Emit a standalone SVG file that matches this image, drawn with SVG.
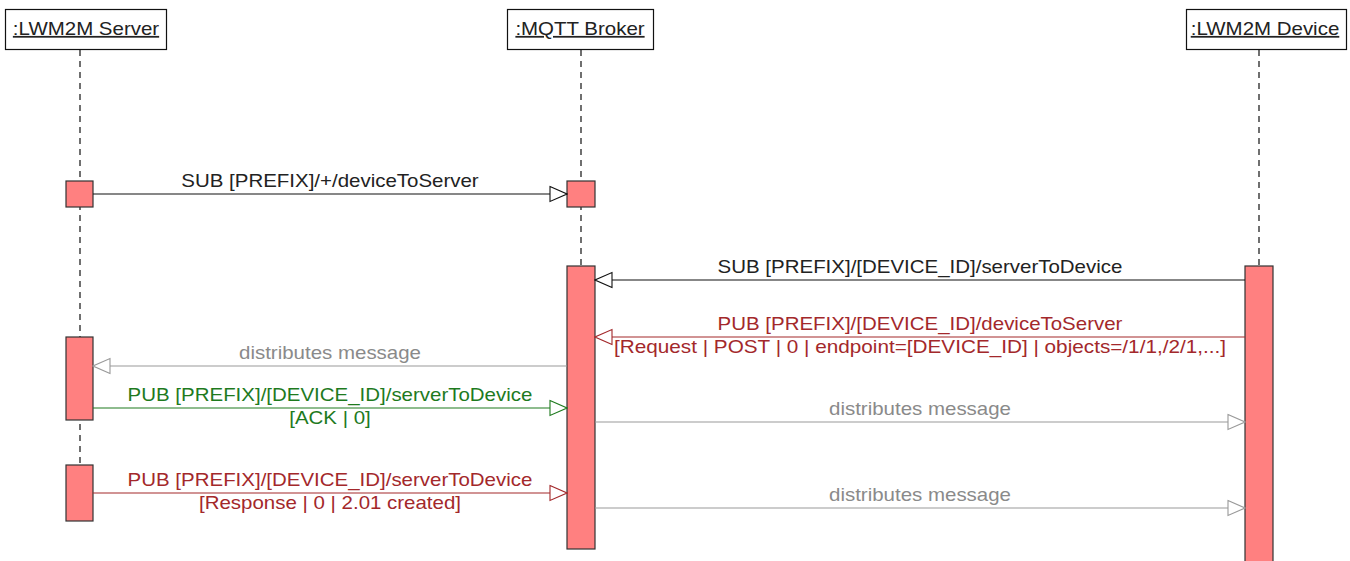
<svg xmlns="http://www.w3.org/2000/svg" width="1350" height="561" viewBox="0 0 1350 561">
  <style>
    text { font-family: "Liberation Sans", Arial, sans-serif; font-size: 17.5px; text-anchor: middle; }
    .head rect { fill: #fff; stroke: #111; stroke-width: 1.2; }
    .head text { fill: #222; text-decoration: underline; }
    .life { stroke: #111; stroke-width: 1.2; stroke-dasharray: 6 5; fill: none; }
    .act { fill: #FF8080; stroke: #333; stroke-width: 1.2; }
    .blk line { stroke: #111; stroke-width: 1.2; }
    .blk text { fill: #222; }
    .red line { stroke: #A3282B; stroke-width: 1.2; }
    .red text { fill: #A3282B; }
    .grn line { stroke: #1E7A1E; stroke-width: 1.2; }
    .grn text { fill: #1E7A1E; }
    .gry line { stroke: #999; stroke-width: 1.2; }
    .gry text { fill: #8A8A8A; }
  </style>
  <defs>
    <marker id="openBlk" viewBox="0 0 19 18" refX="18" refY="9" markerWidth="19" markerHeight="18" markerUnits="userSpaceOnUse" orient="auto">
      <path d="M1 1.5 L18 9 L1 16.5 Z" fill="#fff" stroke="#111" stroke-width="1.1"/>
    </marker>
    <marker id="openRed" viewBox="0 0 19 18" refX="18" refY="9" markerWidth="19" markerHeight="18" markerUnits="userSpaceOnUse" orient="auto">
      <path d="M1 1.5 L18 9 L1 16.5 Z" fill="#fff" stroke="#A3282B" stroke-width="1.1"/>
    </marker>
    <marker id="openGrn" viewBox="0 0 19 18" refX="18" refY="9" markerWidth="19" markerHeight="18" markerUnits="userSpaceOnUse" orient="auto">
      <path d="M1 1.5 L18 9 L1 16.5 Z" fill="#fff" stroke="#1E7A1E" stroke-width="1.1"/>
    </marker>
    <marker id="openGry" viewBox="0 0 19 18" refX="18" refY="9" markerWidth="19" markerHeight="18" markerUnits="userSpaceOnUse" orient="auto">
      <path d="M1 1.5 L18 9 L1 16.5 Z" fill="#fff" stroke="#999" stroke-width="1.1"/>
    </marker>
  </defs>

  <rect width="1350" height="561" fill="#fff"/>

  <!-- LWM2M server participant -->
  <g id="server">
    <line class="life" x1="80" y1="50" x2="80" y2="521"/>
    <g class="head">
      <rect x="5.5" y="9.5" width="161" height="40"/>
      <text transform="translate(86 35) scale(1.17 1)">:LWM2M Server</text>
    </g>
    <rect class="act" x="66" y="181" width="27" height="26"/>
    <rect class="act" x="66" y="337" width="27" height="83"/>
    <rect class="act" x="66" y="465" width="27" height="56"/>
  </g>

  <!-- MQTT broker participant -->
  <g id="broker">
    <line class="life" x1="581" y1="50" x2="581" y2="549"/>
    <g class="head">
      <rect x="507.5" y="9.5" width="146" height="40"/>
      <text transform="translate(580 35) scale(1.17 1)">:MQTT Broker</text>
    </g>
    <rect class="act" x="567" y="181" width="28" height="26"/>
    <rect class="act" x="567" y="266" width="28" height="283"/>
  </g>

  <!-- LWM2M device participant -->
  <g id="device">
    <line class="life" x1="1259" y1="50" x2="1259" y2="561"/>
    <g class="head">
      <rect x="1186.5" y="9.5" width="160" height="40"/>
      <text transform="translate(1265 35) scale(1.17 1)">:LWM2M Device</text>
    </g>
    <rect class="act" x="1245" y="266" width="28" height="300"/>
  </g>

  <!-- messages -->
  <g id="connectors">
    <g class="blk">
      <line x1="93" y1="194" x2="567" y2="194" marker-end="url(#openBlk)"/>
      <text transform="translate(330 187) scale(1.17 1)">SUB [PREFIX]/+/deviceToServer</text>
    </g>
    <g class="blk">
      <line x1="1245" y1="280" x2="595" y2="280" marker-end="url(#openBlk)"/>
      <text transform="translate(920 273) scale(1.17 1)">SUB [PREFIX]/[DEVICE_ID]/serverToDevice</text>
    </g>
    <g class="red">
      <line x1="1245" y1="337" x2="595" y2="337" marker-end="url(#openRed)"/>
      <text transform="translate(920 330) scale(1.17 1)">PUB [PREFIX]/[DEVICE_ID]/deviceToServer</text>
      <text transform="translate(920 353) scale(1.185 1)">[Request | POST | 0 | endpoint=[DEVICE_ID] | objects=/1/1,/2/1,...]</text>
    </g>
    <g class="gry">
      <line x1="567" y1="366" x2="93" y2="366" marker-end="url(#openGry)"/>
      <text transform="translate(330 359) scale(1.17 1)">distributes message</text>
    </g>
    <g class="grn">
      <line x1="93" y1="408" x2="567" y2="408" marker-end="url(#openGrn)"/>
      <text transform="translate(330 401) scale(1.17 1)">PUB [PREFIX]/[DEVICE_ID]/serverToDevice</text>
      <text transform="translate(330 424) scale(1.17 1)">[ACK | 0]</text>
    </g>
    <g class="gry">
      <line x1="595" y1="422" x2="1245" y2="422" marker-end="url(#openGry)"/>
      <text transform="translate(920 415) scale(1.17 1)">distributes message</text>
    </g>
    <g class="red">
      <line x1="93" y1="493" x2="567" y2="493" marker-end="url(#openRed)"/>
      <text transform="translate(330 486) scale(1.17 1)">PUB [PREFIX]/[DEVICE_ID]/serverToDevice</text>
      <text transform="translate(330 509) scale(1.17 1)">[Response | 0 | 2.01 created]</text>
    </g>
    <g class="gry">
      <line x1="595" y1="508" x2="1245" y2="508" marker-end="url(#openGry)"/>
      <text transform="translate(920 501) scale(1.17 1)">distributes message</text>
    </g>
  </g>
</svg>
